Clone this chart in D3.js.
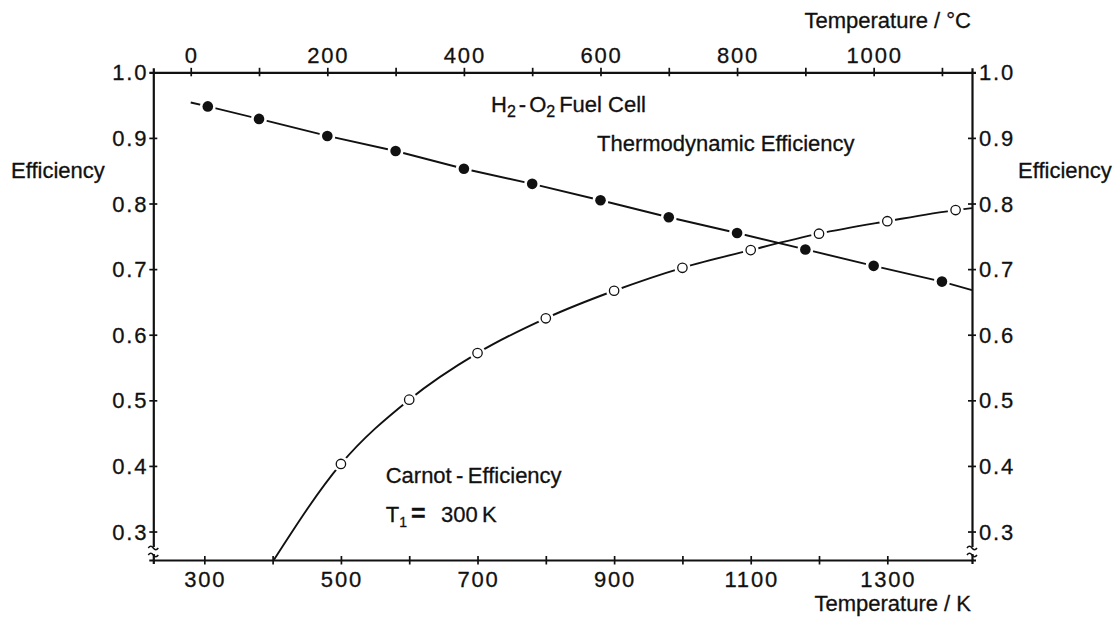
<!DOCTYPE html>
<html>
<head>
<meta charset="utf-8">
<script src="https://cdn.jsdelivr.net/npm/d3@7"></script>
<style>
  html, body { margin: 0; padding: 0; background: #fff; }
  svg { display: block; }
  text { font-family: "Liberation Sans", Arial, Helvetica, sans-serif; fill: #111; stroke: #111; stroke-width: 0.3px; }
</style>
</head>
<body>
<svg id="chart" width="1120" height="626"></svg>
<script>
// ---------- data ----------
// H2-O2 fuel cell, thermodynamic efficiency vs temperature in °C (filled dots)
const fuelCellTempC = [25, 100, 200, 300, 400, 500, 600, 700, 800, 900, 1000, 1100];
const fuelCellEff   = [0.948, 0.929, 0.903, 0.880, 0.853, 0.830, 0.805, 0.779, 0.755, 0.730, 0.705, 0.681];
// where the drawn line begins (at 0 °C) and ends (at the right frame)
const fuelCellLineStart = [0, 0.954];
const fuelCellLineEnd   = [1144, 0.668];

// Carnot efficiency (T1 = 300 K) vs temperature in K (open dots)
const carnotTempK = [500, 600, 700, 800, 900, 1000, 1100, 1200, 1300, 1400];
const carnotEff   = [0.403, 0.501, 0.572, 0.625, 0.667, 0.702, 0.729, 0.754, 0.773, 0.790];
// where the drawn curve enters (bottom frame) and leaves (right frame)
const carnotCurveStart = [402, 0.257];
const carnotCurveEnd   = [1424, 0.793];

// axes
const effTicks      = [0.3, 0.4, 0.5, 0.6, 0.7, 0.8, 0.9, 1.0];
const tempCTicks    = [0, 100, 200, 300, 400, 500, 600, 700, 800, 900, 1000, 1100];
const tempCLabels   = [0, 200, 400, 600, 800, 1000];
const tempKTicks    = [300, 400, 500, 600, 700, 800, 900, 1000, 1100, 1200, 1300];
const tempKLabels   = [300, 500, 700, 900, 1100, 1300];
const tempKDomain   = [225.3, 1424];
const tempCDomain   = [-54.8, 1144];
const effDomain     = [0.2566, 1.0];

// ---------- layout ----------
const svg = d3.select("#chart");
const L = 153.3, R = 972, T = 72.3, B = 560;
const FS = 22;

svg.append("rect").attr("width", 1120).attr("height", 626).attr("fill", "#fff");

const xK = d3.scaleLinear().domain(tempKDomain).range([L, R]);
const xC = d3.scaleLinear().domain(tempCDomain).range([L, R]);
const y  = d3.scaleLinear().domain(effDomain).range([B, T]);

const fmt1 = d3.format(".1f");

function styleAxis(g) {
  g.select(".domain").attr("stroke", "#111").attr("stroke-width", 2.2);
  g.selectAll(".tick line").attr("stroke", "#111").attr("stroke-width", 1.7);
  g.selectAll("text").remove();
}

// bottom axis (K)
const gB = svg.append("g").attr("transform", `translate(0,${B})`)
  .call(d3.axisBottom(xK).tickValues(tempKTicks).tickSizeOuter(0).tickSize(4));
styleAxis(gB);
gB.selectAll(".tick line").attr("y1", -4).attr("y2", 4.5);

// top axis (°C)
const gT = svg.append("g").attr("transform", `translate(0,${T})`)
  .call(d3.axisTop(xC).tickValues(tempCTicks).tickSizeOuter(0).tickSize(4));
styleAxis(gT);
gT.selectAll(".tick line").attr("y1", -4.5).attr("y2", 4);

// left axis
const gL = svg.append("g").attr("transform", `translate(${L},0)`)
  .call(d3.axisLeft(y).tickValues(effTicks.filter(v => v < 1)).tickSizeOuter(0).tickSize(4));
styleAxis(gL);
gL.selectAll(".tick line").attr("x1", -4).attr("x2", 4);

// right axis
const gR = svg.append("g").attr("transform", `translate(${R},0)`)
  .call(d3.axisRight(y).tickValues(effTicks.filter(v => v < 1)).tickSizeOuter(0).tickSize(4));
styleAxis(gR);
gR.selectAll(".tick line").attr("x1", -4).attr("x2", 4);

// axis break marks near the bottom of both vertical axes
[L, R].forEach(x0 => {
  const yb1 = 547, yb2 = 554;
  svg.append("rect").attr("x", x0 - 3).attr("y", yb1).attr("width", 6).attr("height", yb2 - yb1).attr("fill", "#fff");
  [yb1, yb2].forEach(yy => {
    svg.append("path")
      .attr("d", `M${x0 - 5},${yy + 1} q2.5,-3.5 5,0 t5,0`)
      .attr("fill", "none").attr("stroke", "#111").attr("stroke-width", 1.5);
  });
});

// tick labels
const numStyle = s => s.attr("font-size", FS).attr("letter-spacing", "1.8px");
svg.append("g").selectAll("text").data(effTicks).join("text")
  .attr("x", L - 5).attr("y", d => y(d) + 8).attr("text-anchor", "end")
  .text(d => fmt1(d)).call(numStyle);
svg.append("g").selectAll("text").data(effTicks).join("text")
  .attr("x", R + 7).attr("y", d => y(d) + 8).attr("text-anchor", "start")
  .text(d => fmt1(d)).call(numStyle);
svg.append("g").selectAll("text").data(tempKLabels).join("text")
  .attr("x", d => xK(d) + 1).attr("y", 587).attr("text-anchor", "middle")
  .text(d => d).call(numStyle);
svg.append("g").selectAll("text").data(tempCLabels).join("text")
  .attr("x", d => xC(d) + 1).attr("y", 63).attr("text-anchor", "middle")
  .text(d => d).call(numStyle);

// axis titles
svg.append("text").attr("x", 971).attr("y", 28).attr("text-anchor", "end")
  .attr("font-size", FS).text("Temperature / °C");
svg.append("text").attr("x", 971).attr("y", 611).attr("text-anchor", "end")
  .attr("font-size", FS).text("Temperature / K");
svg.append("text").attr("x", 11).attr("y", 178.3).attr("font-size", FS).text("Efficiency");
svg.append("text").attr("x", 1018).attr("y", 178.3).attr("font-size", FS).text("Efficiency");

// ---------- series ----------
svg.append("clipPath").attr("id", "plotclip")
  .append("rect").attr("x", L).attr("y", T).attr("width", R - L).attr("height", B - T);

const fuelPts = fuelCellTempC.map((t, i) => [t, fuelCellEff[i]]);
const fuelLinePts = [fuelCellLineStart, ...fuelPts, fuelCellLineEnd];
svg.append("path")
  .attr("d", d3.line().x(d => xC(d[0])).y(d => y(d[1]))(fuelLinePts))
  .attr("fill", "none").attr("stroke", "#111").attr("stroke-width", 1.9);

const carnotPts = carnotTempK.map((t, i) => [t, carnotEff[i]]);
const carnotLinePts = [carnotCurveStart, ...carnotPts, carnotCurveEnd];
svg.append("path")
  .attr("clip-path", "url(#plotclip)")
  .attr("d", d3.line().curve(d3.curveMonotoneX).x(d => xK(d[0])).y(d => y(d[1]))(carnotLinePts))
  .attr("fill", "none").attr("stroke", "#111").attr("stroke-width", 1.9);

// halos (create the gaps where the line meets each dot)
svg.append("g").selectAll("circle").data(fuelPts).join("circle")
  .attr("cx", d => xC(d[0])).attr("cy", d => y(d[1])).attr("r", 8).attr("fill", "#fff");
svg.append("g").selectAll("circle").data(carnotPts).join("circle")
  .attr("cx", d => xK(d[0])).attr("cy", d => y(d[1])).attr("r", 8).attr("fill", "#fff");

// dots
svg.append("g").selectAll("circle").data(fuelPts).join("circle")
  .attr("cx", d => xC(d[0])).attr("cy", d => y(d[1])).attr("r", 5.3).attr("fill", "#111");
svg.append("g").selectAll("circle").data(carnotPts).join("circle")
  .attr("cx", d => xK(d[0])).attr("cy", d => y(d[1])).attr("r", 4.7)
  .attr("fill", "#fff").attr("stroke", "#111").attr("stroke-width", 1.3);

// ---------- annotations ----------
const t1 = svg.append("text").attr("x", 491).attr("y", 111.7).attr("font-size", FS);
t1.append("tspan").text("H");
t1.append("tspan").attr("font-size", 16).attr("dy", 5).text("2");
t1.append("tspan").attr("dy", -5).attr("dx", 3).text("-");
t1.append("tspan").attr("dx", 3).text("O");
t1.append("tspan").attr("font-size", 16).attr("dy", 5).text("2");
t1.append("tspan").attr("dy", -5).attr("dx", 4).text("Fuel Cell");

svg.append("text").attr("x", 597).attr("y", 151).attr("font-size", FS).text("Thermodynamic Efficiency");

svg.append("text").attr("x", 385.7).attr("y", 482.7).attr("font-size", FS)
  .text("Carnot\u2009-\u2009Efficiency");

const t2 = svg.append("text").attr("x", 385.7).attr("y", 521.7).attr("font-size", FS);
t2.append("tspan").text("T");
t2.append("tspan").attr("font-size", 14).attr("dy", 5).text("1");
t2.append("tspan").attr("x", 411).attr("dy", -5).attr("font-weight", "bold").attr("font-size", 25).text("=");
t2.append("tspan").attr("x", 441).text("300");
t2.append("tspan").attr("x", 482).text("K");
</script>
</body>
</html>
